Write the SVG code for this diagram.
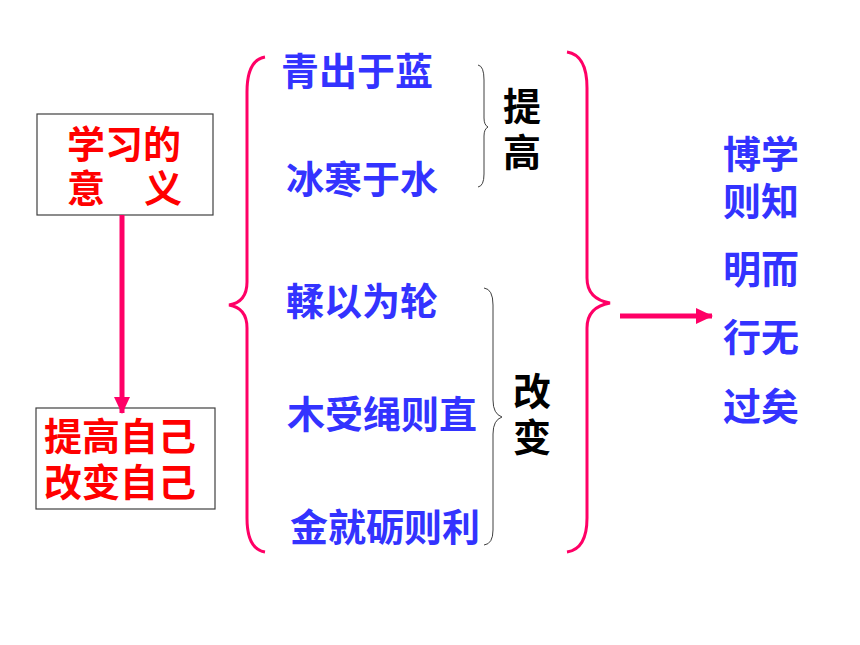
<svg xmlns="http://www.w3.org/2000/svg" width="860" height="645" viewBox="0 0 860 645">
<style>
.t{font-family:"Noto Sans CJK SC","Noto Sans",sans-serif;font-weight:bold;font-size:38px}
.red{fill:#ff0000}
.blue{fill:#3333ff}
.blk{fill:#000000}
.box{fill:#ffffff;stroke:#404040;stroke-width:1.2}
.big{fill:none;stroke:#ff0066;stroke-width:3}
.small{fill:none;stroke:#404040;stroke-width:1}
.conn{stroke:#ff0066;stroke-width:5;fill:none}
</style>
<defs>
<marker id="ah" markerWidth="4" markerHeight="4" refX="3.2" refY="2" orient="auto" markerUnits="strokeWidth">
<path d="M0,0.4 L3.4,2 L0,3.6 Z" fill="#ff0066"/>
</marker>
</defs>
<rect width="860" height="645" fill="#ffffff"/>
<g id="meaning">
<rect class="box" x="37" y="114" width="176" height="101"/>
<text class="t red" x="67" y="158">学习的</text>
<text class="t red" x="67" y="202">意<tspan x="144">义</tspan></text>
</g>
<g id="self">
<rect class="box" x="36" y="408" width="179" height="101"/>
<text class="t red" x="44" y="450">提高自己</text>
<text class="t red" x="44" y="496">改变自己</text>
</g>
<g id="quotes">
<text class="t blue" x="281" y="85">青出于蓝</text>
<text class="t blue" x="286" y="193">冰寒于水</text>
<text class="t blue" x="286" y="315">輮以为轮</text>
<text class="t blue" x="287" y="428">木受绳则直</text>
<text class="t blue" x="290" y="541">金就砺则利</text>
</g>
<g id="raise">
<text class="t blk" x="503" y="120">提</text>
<text class="t blk" x="503" y="166">高</text>
</g>
<g id="change">
<text class="t blk" x="513" y="405">改</text>
<text class="t blk" x="513" y="451">变</text>
</g>
<g id="conclusion">
<text class="t blue" x="723" y="168">博学</text>
<text class="t blue" x="723" y="215">则知</text>
<text class="t blue" x="723" y="283">明而</text>
<text class="t blue" x="723" y="351">行无</text>
<text class="t blue" x="723" y="420">过矣</text>
</g>
<g id="braces">
<path class="big" d="M265,57 Q247,60 247,92 L247,282 Q247,302 229,305 Q247,308 247,328 L247,518 Q247,549 265,552"/>
<path class="big" d="M567,52 Q587,55 587,88 L587,278 Q587,299 610,303 Q587,307 587,328 L587,518 Q587,549 567,552"/>
<path class="small" d="M478,65 Q484,66 484,80 L484,118 Q484,125 488,127 Q484,129 484,136 L484,174 Q484,186 478,187"/>
<path class="small" d="M484,288 Q493,289 493,305 L493,400 Q493,414 502,417 Q493,420 493,434 L493,530 Q493,544 484,545"/>
</g>
<g id="connectors">
<line class="conn" x1="122" y1="215" x2="122" y2="413" marker-end="url(#ah)"/>
<line class="conn" x1="620" y1="316" x2="712" y2="316" marker-end="url(#ah)"/>
</g>
</svg>
